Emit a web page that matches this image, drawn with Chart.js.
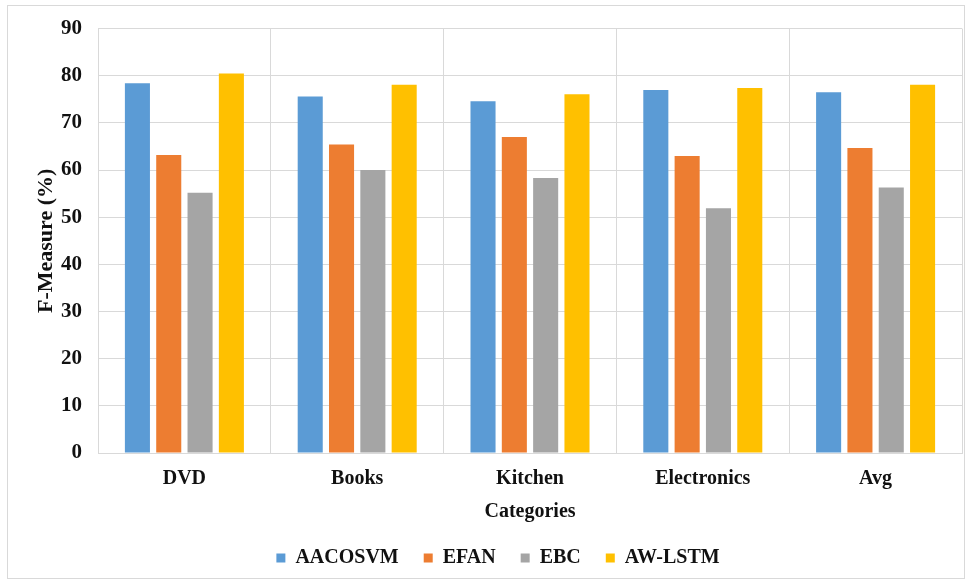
<!DOCTYPE html>
<html>
<head>
<meta charset="utf-8">
<script src="https://cdn.jsdelivr.net/npm/chart.js@4"></script>
<style>
  html, body { margin: 0; padding: 0; background: #fff; }
  #wrap { position: relative; width: 968px; height: 582px; }
  #frame { position: absolute; left: 7px; top: 5px; width: 958px; height: 574px; border: 1px solid #d9d9d9; box-sizing: border-box; pointer-events: none; }
  canvas { position: absolute; left: 0; top: 0; }
</style>
</head>
<body>
<div id="wrap">
  <canvas id="c" width="968" height="582"></canvas>
  <div id="frame"></div>
</div>
<script>
const categories = ['DVD', 'Books', 'Kitchen', 'Electronics', 'Avg'];
const aacosvm = [78.4, 75.6, 74.6, 77.0, 76.5];
const efan    = [63.2, 65.4, 67.0, 63.0, 64.7];
const ebc     = [55.2, 60.0, 58.3, 51.9, 56.3];
const awLstm  = [80.5, 78.1, 76.1, 77.4, 78.1];
const yTicks  = [0, 10, 20, 30, 40, 50, 60, 70, 80, 90];

const serif = "'Liberation Serif', 'Times New Roman', serif";
const grid = '#d9d9d9';
const ink = '#111';

function ds(label, data, color) {
  return { label, data, backgroundColor: color, borderWidth: 0,
           barPercentage: 0.8, categoryPercentage: 0.725 };
}

new Chart(document.getElementById('c'), {
  type: 'bar',
  data: {
    labels: categories,
    datasets: [
      ds('AACOSVM', aacosvm, '#5B9BD5'),
      ds('EFAN', efan, '#ED7D31'),
      ds('EBC', ebc, '#A5A5A5'),
      ds('AW-LSTM', awLstm, '#FFC000')
    ]
  },
  options: {
    responsive: false,
    animation: false,
    layout: { padding: { left: 34, right: 6, top: 26, bottom: 4 } },
    plugins: {
      tooltip: { enabled: false },
      legend: {
        position: 'bottom',
        labels: {
          boxWidth: 9, boxHeight: 9, padding: 25,
          color: ink,
          font: { family: serif, size: 20, weight: 'bold' }
        }
      }
    },
    scales: {
      x: {
        grid: { color: grid, drawTicks: false, offset: true },
        border: { color: grid },
        ticks: { color: ink, padding: 14, font: { family: serif, size: 20, weight: 'bold' } },
        title: { display: true, text: 'Categories', color: ink, padding: { top: 4, bottom: -1 },
                 font: { family: serif, size: 20, weight: 'bold' } },
        afterFit: s => { s.height = 70; }
      },
      y: {
        min: 0, max: 90,
        afterBuildTicks: s => { s.ticks = yTicks.map(v => ({ value: v })); },
        grid: { color: grid, drawTicks: false },
        border: { display: false },
        ticks: { color: ink, padding: 16, font: { family: serif, size: 21, weight: 'bold' } },
        title: { display: true, text: 'F-Measure (%)', color: ink, padding: { top: -1, bottom: 0 },
                 font: { family: serif, size: 22, weight: 'bold' } },
        afterFit: s => { s.width = 64; }
      }
    }
  }
});
</script>
</body>
</html>
